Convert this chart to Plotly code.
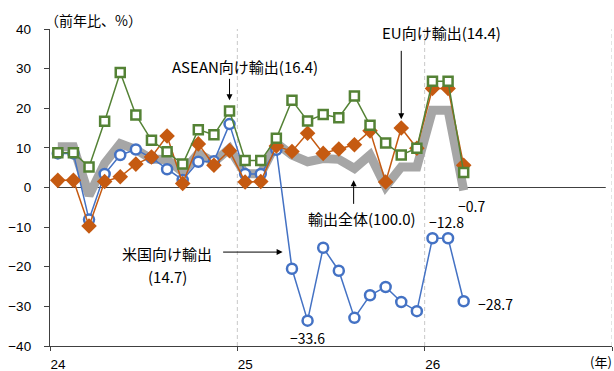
import plotly.graph_objects as go

# Monthly year-on-year export growth, Jan 2024 - Mar 2026 (%)
months = ["2024-01", "2024-02", "2024-03", "2024-04", "2024-05", "2024-06",
          "2024-07", "2024-08", "2024-09", "2024-10", "2024-11", "2024-12",
          "2025-01", "2025-02", "2025-03", "2025-04", "2025-05", "2025-06",
          "2025-07", "2025-08", "2025-09", "2025-10", "2025-11", "2025-12",
          "2026-01", "2026-02", "2026-03"]

total = [10.3, 10.3, -2.0, 6.1, 11.1, 9.6, 7.2, 7.0, 3.9, 8.6, 6.4, 9.8,
         3.5, 3.5, 11.2, 8.2, 6.5, 7.3, 7.1, 4.8, 8.2, 0.2, 5.2, 5.2,
         19.5, 19.5, -0.7]
us = [8.6, 8.6, -8.1, 3.4, 8.2, 9.6, 7.5, 4.6, 1.9, 6.5, 6.6, 16.0,
      3.4, 3.4, 9.5, -20.5, -33.6, -15.2, -21.0, -32.9, -27.2, -25.1, -28.9, -31.2,
      -12.8, -12.8, -28.7]
eu = [1.8, 1.8, -9.7, 1.5, 2.7, 5.9, 7.7, 13.0, 1.0, 11.0, 5.6, 9.3,
      1.4, 1.5, 10.5, 9.1, 13.7, 8.6, 9.7, 10.8, 14.3, 1.4, 15.0, 9.9,
      25.0, 25.0, 5.6]
asean = [8.8, 8.8, 5.2, 16.7, 29.0, 18.3, 11.9, 9.0, 5.9, 14.6, 13.3, 19.3,
         6.8, 6.8, 12.4, 22.0, 16.8, 18.4, 17.6, 23.1, 15.7, 11.2, 8.2, 9.9,
         26.8, 26.8, 3.8]

year_ticks = [0, 12, 24, 36]
year_labels = ["24", "25", "26", ""]
y_ticks = [40, 30, 20, 10, 0, -10, -20, -30, -40]

# month index -> position centred within each month slot
x = [i + 0.5 for i in range(len(months))]

FONT = "Noto Sans CJK JP, Noto Sans, sans-serif"
TICK_FONT = "Liberation Sans, Arial, sans-serif"
GRAY = "#A6A6A6"
BLUE = "#4472C4"
ORANGE = "#C55A11"
GREEN = "#548235"

fig = go.Figure()

fig.add_trace(go.Scatter(x=x, y=total, mode="lines", name="輸出全体",
                         line=dict(color=GRAY, width=9), hoverinfo="skip"))
fig.add_trace(go.Scatter(x=x, y=us, mode="lines+markers", name="米国向け輸出",
                         line=dict(color=BLUE, width=1.5),
                         marker=dict(symbol="circle", size=10, color="white",
                                     line=dict(color=BLUE, width=2.5))))
fig.add_trace(go.Scatter(x=x, y=eu, mode="lines+markers", name="EU向け輸出",
                         line=dict(color=ORANGE, width=1.5),
                         marker=dict(symbol="diamond", size=12, color=ORANGE,
                                     line=dict(width=0))))
fig.add_trace(go.Scatter(x=x, y=asean, mode="lines+markers", name="ASEAN向け輸出",
                         line=dict(color=GREEN, width=1.5),
                         marker=dict(symbol="square", size=9, color="white",
                                     line=dict(color=GREEN, width=2.5))))

shapes = []
# dashed year separators
for yr in year_ticks[1:]:
    shapes.append(dict(type="line", xref="x", yref="y", x0=yr, x1=yr, y0=-40, y1=40,
                       line=dict(color="#C8C8C8", width=1, dash="4px,3px"),
                       layer="below"))
# zero line
shapes.append(dict(type="line", xref="x", yref="y", x0=0.45, x1=35.6, y0=0, y1=0,
                   line=dict(color="#404040", width=1), layer="below"))

lab_font = dict(family=FONT, size=15, color="#000000")
val_font = dict(family=FONT, size=14, color="#000000")
arrow = dict(text="", showarrow=True, arrowhead=2, arrowsize=1.2, arrowwidth=1,
             arrowcolor="#000000")
annotations = [
    # series labels
    dict(x=12.5, y=30.5, text="ASEAN向け輸出(16.4)", showarrow=False, font=lab_font),
    dict(x=25.1, y=39.0, text="EU向け輸出(14.4)", showarrow=False, font=lab_font),
    dict(x=20.0, y=-7.8, text="輸出全体(100.0)", showarrow=False, font=lab_font),
    dict(x=7.5, y=-16.6, text="米国向け輸出", showarrow=False, font=lab_font),
    dict(x=7.5, y=-22.4, text="(14.7)", showarrow=False, font=lab_font),
    # pointer arrows
    dict(x=11.5, y=22.0, ax=0, ay=-23, **arrow),
    dict(x=22.5, y=17.2, ax=0, ay=-70, **arrow),
    dict(x=19.45, y=1.8, ax=0, ay=25, **arrow),
    dict(x=14.9, y=-16.3, ax=-61, ay=0, **arrow),
    # value labels
    dict(x=16.5, y=-38.0, text="−33.6", showarrow=False, font=val_font),
    dict(x=25.4, y=-8.8, text="−12.8", showarrow=False, font=val_font),
    dict(x=27.0, y=-4.6, text="−0.7", showarrow=False, font=val_font),
    dict(x=27.3, y=-29.5, text="−28.7", showarrow=False, font=val_font, xanchor="left"),
    # axis captions
    dict(xref="paper", yref="paper", x=0, y=1, yshift=9, xshift=-7, xanchor="left",
         yanchor="middle", text="（前年比、%）", showarrow=False, font=val_font),
    dict(xref="paper", yref="paper", x=0.958, y=0, yshift=-15, xanchor="left",
         yanchor="middle", text="(年)", showarrow=False,
         font=dict(family=FONT, size=13, color="#000000")),
]

fig.update_layout(
    width=614, height=371,
    margin=dict(l=50, r=2, t=29, b=25, autoexpand=False),
    paper_bgcolor="white", plot_bgcolor="white",
    showlegend=False,
    font=dict(family=FONT, size=13.5, color="#000000"),
    shapes=shapes,
    annotations=annotations,
)
fig.update_xaxes(range=[0, 36], tickmode="array", tickvals=year_ticks,
                 ticktext=year_labels, ticks="outside", ticklen=4,
                 tickcolor="#404040", showline=True, linecolor="#404040",
                 linewidth=1.3, showgrid=False, zeroline=False, automargin=False,
                 ticklabelshift=8, ticklabelstandoff=2,
                 tickfont=dict(family=TICK_FONT, size=13.5))
fig.update_yaxes(range=[-40, 40], tickmode="array", tickvals=y_ticks,
                 ticks="outside", ticklen=5, tickcolor="#404040", showline=True,
                 linecolor="#404040", linewidth=1.3, showgrid=False, zeroline=False,
                 automargin=False, ticklabelstandoff=10,
                 tickfont=dict(family=TICK_FONT, size=13.5))

fig.write_html("out.html")
